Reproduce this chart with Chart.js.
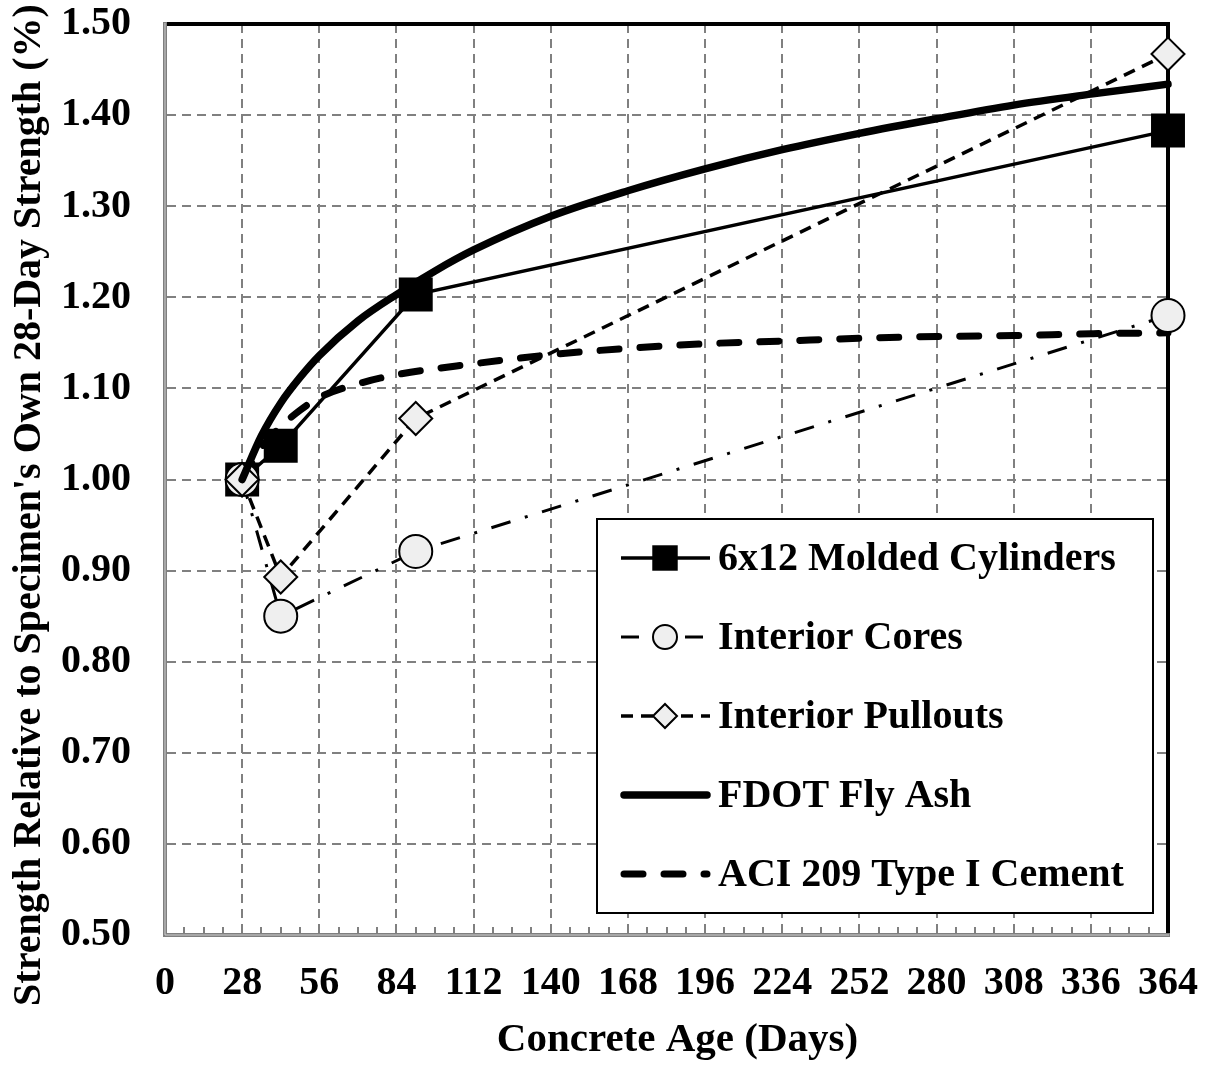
<!DOCTYPE html>
<html><head><meta charset="utf-8">
<script src="https://cdn.jsdelivr.net/npm/chart.js@4.4.0/dist/chart.umd.min.js"></script>
<style>html,body{margin:0;padding:0;background:#fff;}canvas{display:block;}</style>
</head><body>
<canvas id="c" width="1207" height="1065"></canvas>
<script>
// ---- data ----
const seriesNames = ['6x12 Molded Cylinders', 'Interior Cores', 'Interior Pullouts', 'FDOT Fly Ash', 'ACI 209 Type I Cement'];
const testDays = [28, 42, 91, 364];
const moldedCylinders = [1.000, 1.037, 1.203, 1.383];
const interiorCores = [1.000, 0.850, 0.921, 1.180];
const interiorPullouts = [1.000, 0.893, 1.067, 1.467];
const fdotDays = [28, 35, 42, 49, 56, 70, 84, 98, 112, 140, 168, 196, 224, 252, 280, 308, 336, 364];
const fdotFlyAsh = [1.000, 1.048, 1.084, 1.112, 1.136, 1.174, 1.203, 1.229, 1.252, 1.289, 1.317, 1.341, 1.362, 1.380, 1.396, 1.411, 1.423, 1.434];
const aciDays = [28, 35, 42, 49, 56, 70, 84, 112, 140, 168, 196, 224, 252, 280, 308, 336, 364];
const aci209TypeI = [1.000, 1.035, 1.058, 1.076, 1.090, 1.105, 1.115, 1.127, 1.137, 1.144, 1.149, 1.152, 1.155, 1.157, 1.158, 1.160, 1.161];
const xTickLabels = ['0','28','56','84','112','140','168','196','224','252','280','308','336','364'];
const yTickLabels = ['0.50','0.60','0.70','0.80','0.90','1.00','1.10','1.20','1.30','1.40','1.50'];
const xTitle = 'Concrete Age (Days)';
const yTitle = "Strength Relative to Specimen's Own 28-Day Strength (%)";

const FONT = '"Liberation Serif", "Times New Roman", serif';
const FS = 40;
const toPts = (xs, ys) => xs.map((x, i) => ({x: x, y: ys[i]}));

const datasets = [
  {label: seriesNames[0], data: toPts(testDays, moldedCylinders), order: 4,
   borderColor: '#000', borderWidth: 3.5, tension: 0,
   pointStyle: 'rect', pointRadius: 24, pointBackgroundColor: '#000', pointBorderColor: '#000', pointBorderWidth: 0,
   legendRadius: 18},
  {label: seriesNames[1], data: toPts(testDays, interiorCores), order: 3,
   borderColor: '#000', borderWidth: 3, borderDash: [20, 15, 3, 15], tension: 0,
   pointStyle: 'circle', pointRadius: 16.5, pointBackgroundColor: '#efefef', pointBorderColor: '#000', pointBorderWidth: 2,
   legendRadius: 12, legendDash: [18, 14]},
  {label: seriesNames[2], data: toPts(testDays, interiorPullouts), order: 2,
   borderColor: '#000', borderWidth: 3.5, borderDash: [12, 8], tension: 0,
   pointStyle: 'rectRot', pointRadius: 16.5, pointBackgroundColor: '#efefef', pointBorderColor: '#000', pointBorderWidth: 2,
   legendRadius: 12, legendDash: [12, 8]},
  {label: seriesNames[3], data: toPts(fdotDays, fdotFlyAsh), order: 1,
   borderColor: '#000', borderWidth: 7.5, cubicInterpolationMode: 'monotone', pointRadius: 0, borderCapStyle: 'round'},
  {label: seriesNames[4], data: toPts(aciDays, aci209TypeI), order: 5,
   borderColor: '#000', borderWidth: 7, borderDash: [19, 21], borderCapStyle: 'round', cubicInterpolationMode: 'monotone', pointRadius: 0,
   legendDash: [19, 21]}
];
datasets.forEach(d => { d.fill = false; d.clip = false; d.pointHoverRadius = d.pointRadius; });

const frame = {
  id: 'frame',
  beforeDatasetsDraw(chart) {
    const {ctx, chartArea: a, scales: {x}} = chart;
    ctx.save();
    // inward ticks on x axis every 7 days
    ctx.strokeStyle = '#808080';
    ctx.lineWidth = 2;
    for (let d = 7; d < 364; d += 7) {
      const px = Math.round(x.getPixelForValue(d));
      ctx.beginPath(); ctx.moveTo(px, a.bottom); ctx.lineTo(px, a.bottom - 8); ctx.stroke();
    }
    // black plot border (top/right)
    ctx.strokeStyle = '#000';
    ctx.lineWidth = 4;
    ctx.beginPath();
    ctx.moveTo(a.left, a.top); ctx.lineTo(a.right, a.top); ctx.lineTo(a.right, a.bottom);
    ctx.stroke();
    // grey axis lines
    ctx.strokeStyle = '#7f7f7f';
    ctx.lineWidth = 4;
    ctx.beginPath();
    ctx.moveTo(a.left, a.top - 2); ctx.lineTo(a.left, a.bottom); ctx.lineTo(a.right + 2, a.bottom);
    ctx.stroke();
    ctx.strokeStyle = '#d0d0d0';
    ctx.lineWidth = 1;
    ctx.beginPath();
    ctx.moveTo(a.left, a.top - 1); ctx.lineTo(a.left, a.bottom); ctx.lineTo(a.right + 1, a.bottom);
    ctx.stroke();
    ctx.restore();
  },
  afterDraw(chart) {
    const {ctx, chartArea: a} = chart;
    ctx.save();
    // axis titles
    ctx.fillStyle = '#000';
    ctx.font = 'bold 41px ' + FONT;
    ctx.textAlign = 'center';
    ctx.textBaseline = 'middle';
    ctx.fillText(xTitle, (a.left + a.right) / 2 + 11, 1040);
    ctx.save();
    ctx.translate(30, 505);
    ctx.rotate(-Math.PI / 2);
    ctx.font = 'bold ' + FS + 'px ' + FONT;
    ctx.fillText(yTitle, 0, 0);
    ctx.restore();

    // legend
    const bx = 597, by = 519, bw = 556, bh = 394;
    ctx.fillStyle = '#fff';
    ctx.fillRect(bx, by, bw, bh);
    ctx.strokeStyle = '#000';
    ctx.lineWidth = 2;
    ctx.strokeRect(bx, by, bw, bh);
    const rowY = [558, 637, 716, 795, 874];
    chart.data.datasets.forEach((ds, i) => {
      const y = rowY[i];
      ctx.save();
      ctx.strokeStyle = ds.borderColor;
      ctx.lineWidth = ds.borderWidth;
      ctx.lineCap = ds.borderCapStyle || 'butt';
      ctx.setLineDash(ds.legendDash || []);
      const x0 = ds.borderCapStyle === 'round' ? 624 : 621;
      const x1 = ds.borderCapStyle === 'round' ? 707 : 710;
      ctx.beginPath(); ctx.moveTo(x0, y); ctx.lineTo(x1, y); ctx.stroke();
      ctx.setLineDash([]);
      if (ds.pointRadius > 0) {
        ctx.fillStyle = ds.pointBackgroundColor;
        ctx.strokeStyle = ds.pointBorderColor;
        ctx.lineWidth = ds.pointBorderWidth;
        Chart.helpers.drawPoint(ctx, {pointStyle: ds.pointStyle, radius: ds.legendRadius, rotation: 0, borderWidth: ds.pointBorderWidth}, 665, y);
      }
      ctx.restore();
      ctx.fillStyle = '#000';
      ctx.font = 'bold ' + FS + 'px ' + FONT;
      ctx.textAlign = 'left';
      ctx.textBaseline = 'middle';
      ctx.fillText(ds.label, 718, y + 2);
    });
    ctx.restore();
  }
};

new Chart(document.getElementById('c'), {
  type: 'line',
  data: {datasets: datasets},
  options: {
    responsive: false,
    animation: false,
    events: [],
    layout: {padding: {top: 23, right: 39, bottom: 0, left: 0}},
    plugins: {legend: {display: false}, tooltip: {enabled: false}, title: {display: false}},
    scales: {
      x: {
        type: 'linear', min: 0, max: 364,
        afterFit(s) { s.height = 130; s.paddingLeft = 0; s.paddingRight = 0; },
        afterBuildTicks(s) { s.ticks = xTickLabels.map(t => ({value: Number(t)})); },
        ticks: {stepSize: 28, autoSkip: false, maxRotation: 0, padding: 25, color: '#000',
                font: {family: FONT, size: FS, weight: 'bold'},
                callback: (v, i) => xTickLabels[i]},
        grid: {color: '#808080', lineWidth: 2, drawTicks: false},
        border: {display: true, color: '#7f7f7f', width: 4, dash: [9, 6]}
      },
      y: {
        type: 'linear', min: 0.5, max: 1.5,
        afterFit(s) { s.width = 165; s.paddingTop = 0; s.paddingBottom = 0; },
        afterBuildTicks(s) { s.ticks = yTickLabels.map(t => ({value: Number(t)})); },
        ticks: {stepSize: 0.1, autoSkip: false, padding: 34, color: '#000',
                font: {family: FONT, size: FS, weight: 'bold'},
                callback: (v, i) => yTickLabels[i]},
        grid: {color: '#808080', lineWidth: 2, drawTicks: false},
        border: {display: true, color: '#7f7f7f', width: 4, dash: [9, 6]}
      }
    }
  },
  plugins: [frame]
});
</script>
</body></html>
